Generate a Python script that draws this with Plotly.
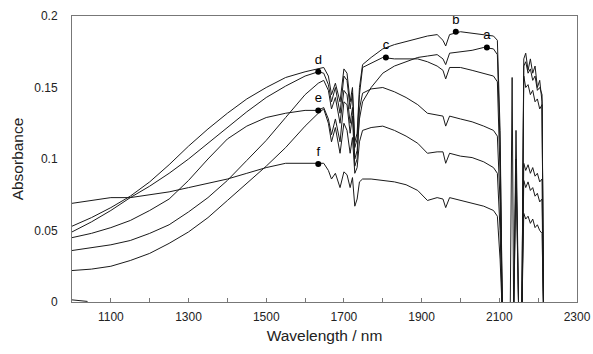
import plotly.graph_objects as go

# ---------------- data ----------------
wavelength = [1000, 1050, 1100, 1150, 1200, 1250, 1300, 1350, 1400, 1450, 1500, 1550, 1600, 1634,
              1648, 1660, 1668, 1678, 1690, 1700, 1708, 1716, 1722, 1728, 1734, 1740, 1748,
              1770, 1800, 1830, 1860, 1890, 1915, 1940, 1955, 1962, 1972, 2000, 2030, 2060, 2085, 2095,
              2102, 2108, 2128, 2133, 2137, 2143, 2150, 2158, 2163, 2168, 2174, 2180, 2186, 2192, 2198,
              2204, 2210, 2214]

spec_b = [0.053, 0.059, 0.066, 0.074, 0.084, 0.096, 0.109, 0.121, 0.132, 0.142, 0.150, 0.157, 0.161, 0.163,
          0.164, 0.158, 0.145, 0.153, 0.140, 0.163, 0.160, 0.140, 0.150, 0.112, 0.118, 0.150, 0.166,
          0.171, 0.177, 0.180, 0.182, 0.184, 0.186, 0.187, 0.183, 0.179, 0.187, 0.189, 0.188, 0.187, 0.186, 0.183,
          0.120, -0.01, -0.01, -0.01, -0.01, -0.01, -0.01, -0.01, 0.170, 0.174, 0.162, 0.170, 0.160, 0.165, 0.150,
          0.155, 0.140, -0.01]

spec_c = [0.049, 0.056, 0.064, 0.073, 0.081, 0.090, 0.100, 0.111, 0.122, 0.133, 0.143, 0.151, 0.158, 0.161,
          0.160, 0.152, 0.140, 0.150, 0.132, 0.158, 0.155, 0.135, 0.146, 0.108, 0.114, 0.145, 0.164,
          0.167, 0.171, 0.170, 0.170, 0.170, 0.168, 0.165, 0.162, 0.156, 0.164, 0.164, 0.162, 0.160, 0.158, 0.154,
          0.090, -0.01, -0.01, -0.01, -0.01, 0.120, -0.01, -0.01, 0.158, 0.150, 0.152, 0.145, 0.148, 0.140, 0.142,
          0.135, 0.138, -0.01]

spec_a = [0.036, 0.038, 0.040, 0.043, 0.048, 0.054, 0.063, 0.073, 0.085, 0.099, 0.113, 0.129, 0.145, 0.153,
          0.155, 0.148, 0.135, 0.143, 0.125, 0.148, 0.145, 0.125, 0.136, 0.100, 0.106, 0.128, 0.140,
          0.150, 0.160, 0.165, 0.168, 0.171, 0.172, 0.173, 0.170, 0.166, 0.174, 0.175, 0.176, 0.178, 0.177, 0.173,
          0.110, -0.01, -0.01, 0.157, -0.01, -0.01, -0.01, -0.01, 0.165, 0.168, 0.160, 0.163, 0.155, 0.158, 0.148,
          0.150, 0.145, -0.01]

spec_e = [0.045, 0.048, 0.052, 0.057, 0.064, 0.072, 0.085, 0.100, 0.114, 0.123, 0.129, 0.132, 0.134, 0.134,
          0.136, 0.128, 0.117, 0.128, 0.112, 0.140, 0.138, 0.118, 0.130, 0.095, 0.100, 0.135, 0.146,
          0.149, 0.150, 0.147, 0.143, 0.138, 0.132, 0.131, 0.130, 0.123, 0.130, 0.128, 0.126, 0.123, 0.120, 0.116,
          0.070, -0.01, -0.01, -0.01, -0.01, 0.100, -0.01, -0.01, 0.097, 0.092, 0.096, 0.090, 0.094, 0.088, 0.090,
          0.084, 0.086, -0.01]

spec_s = [0.022, 0.023, 0.025, 0.029, 0.034, 0.041, 0.049, 0.059, 0.071, 0.083, 0.095, 0.108, 0.123, 0.132,
          0.135, 0.125, 0.112, 0.122, 0.104, 0.125, 0.120, 0.104, 0.115, 0.090, 0.094, 0.112, 0.120,
          0.122, 0.123, 0.120, 0.116, 0.111, 0.104, 0.105, 0.105, 0.097, 0.104, 0.102, 0.101, 0.098, 0.094, 0.090,
          0.050, -0.01, -0.01, -0.01, -0.01, 0.090, -0.01, -0.01, 0.085, 0.080, 0.084, 0.078, 0.080, 0.074, 0.076,
          0.070, 0.072, -0.01]

spec_f = [0.069, 0.071, 0.073, 0.073, 0.075, 0.077, 0.080, 0.083, 0.086, 0.090, 0.094, 0.097, 0.097, 0.0965,
          0.097, 0.092, 0.086, 0.090, 0.080, 0.091, 0.089, 0.080, 0.087, 0.067, 0.072, 0.084, 0.086,
          0.086, 0.085, 0.084, 0.082, 0.078, 0.071, 0.073, 0.072, 0.066, 0.073, 0.071, 0.069, 0.067, 0.064, 0.060,
          0.030, -0.01, -0.01, -0.01, -0.01, -0.01, -0.01, -0.01, 0.062, 0.058, 0.060, 0.055, 0.058, 0.052, 0.054,
          0.050, 0.048, -0.01]

baseline_x = [1000, 1040]
baseline_y = [0.0015, 0.0004]

point_labels = ["a", "b", "c", "d", "e", "f"]
point_x = [2068, 1988, 1808, 1634, 1634, 1634]
point_y = [0.178, 0.189, 0.171, 0.161, 0.134, 0.0965]

x_tickvals = list(range(1000, 2301, 100))
x_ticktext = ["", "1100", "", "1300", "", "1500", "", "1700", "", "1900", "", "2100", "", "2300"]
y_tickvals = [0, 0.05, 0.1, 0.15, 0.2]
y_ticktext = ["0", "0.05", "0.1", "0.15", "0.2"]

series = [spec_b, spec_c, spec_a, spec_e, spec_s, spec_f]
for s in series:
    assert len(s) == len(wavelength), len(s)

# ---------------- figure ----------------
FONT = "Arial, Liberation Sans, sans-serif"
fig = go.Figure()
for s in series:
    fig.add_trace(go.Scatter(x=wavelength, y=s, mode="lines",
                             line=dict(color="#1a1a1a", width=1), showlegend=False,
                             hoverinfo="skip"))
fig.add_trace(go.Scatter(x=baseline_x, y=baseline_y, mode="lines",
                         line=dict(color="#1a1a1a", width=1), showlegend=False, hoverinfo="skip"))
fig.add_trace(go.Scatter(x=point_x, y=point_y, mode="markers+text", text=point_labels,
                         textposition="top center",
                         textfont=dict(family=FONT, size=13, color="#000"),
                         marker=dict(color="#000", size=6), showlegend=False))

fig.update_layout(
    width=593, height=354,
    margin=dict(l=71.5, r=16, t=16, b=52),
    paper_bgcolor="white", plot_bgcolor="white",
    font=dict(family=FONT, size=12, color="#222"),
    xaxis=dict(range=[1000, 2300], tickvals=x_tickvals, ticktext=x_ticktext,
               ticks="inside", ticklen=4, tickcolor="#777", tickwidth=1,
               showline=True, linecolor="#777", linewidth=1, mirror=True,
               showgrid=False, zeroline=False, ticklabelstandoff=4, automargin=False,
               title=dict(text="Wavelength / nm", font=dict(size=15.5, family=FONT, color="#222"), standoff=6)),
    yaxis=dict(range=[0, 0.2], tickvals=y_tickvals, ticktext=y_ticktext,
               ticks="", showline=True, linecolor="#777", linewidth=1, mirror=True,
               showgrid=False, zeroline=False, ticklabelstandoff=11, automargin=False,
               title=dict(text="Absorbance", font=dict(size=15.5, family=FONT, color="#222"), standoff=6)),
)

# remove the browser's default 8px page margin so the figure fills the window exactly
fig.write_html("out.html", config={"displayModeBar": False},
               post_script="document.body.style.margin='0';document.body.style.overflow='hidden';")
